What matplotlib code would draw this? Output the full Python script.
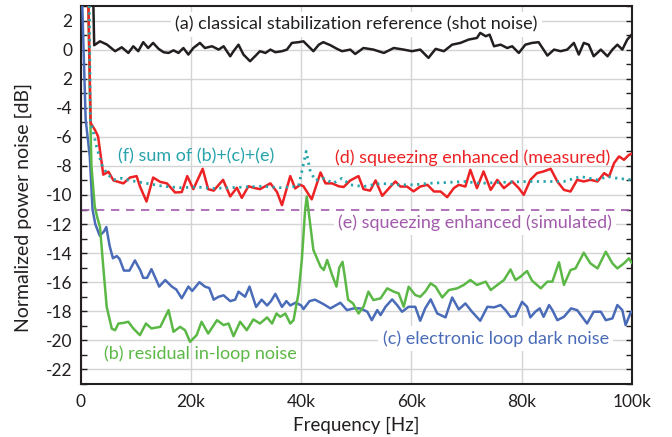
import numpy as np
import matplotlib
matplotlib.use("Agg")
import matplotlib.pyplot as plt
from matplotlib.ticker import MultipleLocator, FixedLocator

plt.rcParams['font.family'] = ['Lato', 'DejaVu Sans']

# frequencies in kHz, values in dB
# (a) classical stabilization reference
fa = [2.2, 2.4, 3.45, 4.7, 6.2, 7.4, 8.6, 9.5, 10.4, 11.3,
      12.2, 13.1, 14.1, 15.0, 15.9, 16.8, 17.7, 18.6, 19.5, 20.4,
      21.6, 22.5, 23.8, 25.0, 25.9, 27.1, 27.7, 28.6, 29.5, 30.7,
      31.6, 32.5, 33.5, 34.4, 35.3, 36.5, 37.4, 38.3, 39.5, 40.4,
      41.3, 42.2, 43.2, 44.0, 45.3, 46.5, 47.4, 48.9, 49.8, 51.3,
      53.1, 55.0, 56.8, 58.6, 60.1, 61.6, 63.1, 64.4, 65.9, 67.4,
      68.9, 70.4, 71.9, 72.5, 73.5, 74.2, 75.0, 76.2, 77.4, 78.3,
      79.5, 80.7, 81.9, 83.1, 84.7, 85.9, 87.1, 88.3, 89.5, 90.4,
      91.3, 92.2, 93.1, 94.4, 95.6, 96.5, 97.4, 98.3, 99.2, 100]
va = [4.0, 0.30, 0.57, 0.35, -0.11, 0.16, -0.23, 0.23, -0.11, 0.51,
      0.11, 0.46, 0.05, -0.18, -0.23, -0.05, -0.23, 0.11, -0.34, 0.11,
      0.46, 0.11, 0.23, 0.0, 0.23, -0.46, -0.11, 0.34, -0.34, -0.80,
      -0.46, -0.11, -0.23, 0.0, -0.18, -0.11, 0.0, 0.46, 0.51, 0.57,
      0.23, -0.11, 0.34, 0.51, 0.3, 0.05, -0.11, 0.0, -0.30, 0.11,
      0.0, -0.23, 0.11, 0.0, -0.11, 0.0, -0.57, 0.05, -0.11, 0.34,
      0.46, 0.69, 0.80, 1.15, 0.92, 1.03, 0.23, 0.34, 0.11, 0.23,
      -0.23, 0.34, 0.46, 0.51, -0.41, 0.0, -0.11, 0.0, 0.46, -0.34,
      0.46, 0.34, -0.46, 0.0, -0.46, 0.0, 0.34, 0.0, 0.69, 1.03]

# (b) residual in-loop noise
fb = [1.3, 1.7, 1.9, 2.5, 3.0, 3.45, 4.06, 4.67, 5.6, 6.2,
      6.8, 7.7, 8.6, 9.5, 10.7, 11.8, 12.8, 14.4, 15.9, 16.8,
      18.0, 18.9, 19.8, 21.0, 21.9, 23.1, 24.7, 25.9, 26.8, 27.7,
      28.9, 30.1, 31.3, 32.5, 33.8, 34.7, 35.5, 36.2, 37.1, 38.0,
      38.6, 39.5, 40.1, 40.7, 41.0, 42.2, 43.5, 44.1, 44.7, 45.6,
      46.4, 46.9, 47.5, 47.9, 48.5, 49.4, 50.4, 51.3, 52.2, 53.1,
      54.4, 55.6, 56.8, 57.7, 58.6, 59.5, 60.7, 61.6, 62.5, 63.5,
      64.4, 65.6, 66.8, 68.3, 69.5, 70.7, 71.9, 73.5, 74.4, 75.6,
      76.8, 78.0, 78.9, 79.8, 81.0, 81.9, 83.5, 84.7, 85.6, 86.8,
      87.7, 88.9, 89.8, 91.3, 92.5, 93.8, 95.3, 96.5, 97.4, 98.6,
      99.5, 100]
vb = [4.0, -4.8, -8.0, -10.8, -11.6, -12.2, -15.0, -17.7, -19.2, -19.3,
      -18.84, -18.8, -18.72, -19.18, -19.64, -18.84, -19.18, -19.07, -17.92, -19.41,
      -19.07, -19.30, -20.1, -19.64, -18.72, -19.53, -18.61, -18.95, -18.84, -19.71,
      -18.72, -19.30, -18.56, -18.84, -18.42, -18.84, -18.15, -18.38, -18.15, -18.84,
      -18.61, -16.76, -14.47, -11.03, -10.1, -13.78, -14.93, -15.16, -14.47, -15.5,
      -16.3, -15.0, -14.6, -15.6, -17.2, -17.46, -18.15, -17.69, -16.65, -17.23,
      -17.11, -16.42, -16.65, -16.77, -17.69, -16.31, -16.88, -17.0, -16.65, -16.08,
      -16.31, -17.05, -16.54, -16.42, -16.19, -15.85, -16.19, -15.96, -16.54, -16.19,
      -15.85, -15.12, -15.85, -15.62, -15.23, -15.89, -16.42, -15.96, -15.96, -14.63,
      -16.19, -15.16, -15.05, -13.97, -14.7, -15.05, -13.9, -14.7, -15.05, -14.7,
      -14.36, -14.66]

# (c) electronic loop dark noise
fc = [0.2, 0.85, 1.6, 2.1, 2.6, 3.4, 4.2, 4.6, 5.2, 5.8,
      6.5, 7.0, 7.8, 8.8, 9.8, 10.8, 11.3, 12.0, 12.8, 14.2,
      15.3, 16.5, 17.3, 18.3, 19.5, 20.2, 21.5, 22.5, 23.3, 24.1,
      25.0, 25.9, 27.1, 28.0, 28.6, 29.8, 30.6, 31.2, 31.8, 32.8,
      33.8, 34.5, 35.3, 36.5, 37.3, 38.0, 39.0, 40.0, 40.4, 41.5,
      42.5, 44.0, 45.3, 47.1, 48.3, 49.5, 50.7, 52.0, 52.8, 53.8,
      54.4, 55.3, 56.5, 57.4, 58.3, 59.5, 60.7, 61.6, 62.5, 63.5,
      64.7, 66.2, 67.4, 68.6, 69.8, 71.0, 72.5, 73.8, 75.0, 76.2,
      77.1, 78.0, 78.9, 80.1, 81.0, 81.6, 82.5, 83.3, 84.0, 85.0,
      85.6, 86.5, 87.7, 89.0, 90.1, 91.9, 93.1, 94.4, 95.3, 96.5,
      97.4, 98.3, 98.9, 99.8, 100]
vc = [3.5, -4.8, -7.35, -11.0, -12.0, -12.8, -12.5, -12.2, -13.5, -14.35,
      -14.2, -14.4, -15.2, -15.2, -14.5, -15.2, -15.7, -15.7, -15.1, -16.3,
      -15.85, -16.3, -16.5, -17.1, -16.3, -16.6, -16.0, -16.3, -16.4, -17.2,
      -17.0, -16.9, -17.3, -17.2, -16.65, -17.0, -16.3, -17.0, -17.7, -17.2,
      -17.6, -17.3, -16.8, -17.7, -17.3, -17.6, -17.4, -17.6, -17.85, -17.3,
      -17.2, -17.5, -17.80, -17.41, -17.92, -17.80, -17.80, -18.03, -18.61, -17.92,
      -18.26, -17.69, -17.18, -17.57, -18.03, -17.69, -17.69, -18.65, -17.80, -17.18,
      -18.15, -18.42, -17.05, -17.87, -17.46, -18.03, -18.65, -17.69, -17.73, -17.57,
      -17.92, -18.38, -18.33, -17.35, -17.69, -18.42, -18.03, -17.80, -18.38, -17.57,
      -17.92, -18.61, -18.38, -17.80, -17.92, -18.84, -18.03, -18.03, -18.61, -18.49,
      -17.57, -17.92, -18.95, -18.1, -18.03]

# (d) squeezing enhanced (measured)
fd = [1.3, 1.76, 2.5, 3.1, 3.6, 4.05, 5.0, 5.9, 7.7, 8.9,
      10.1, 10.7, 11.9, 13.1, 14.4, 15.6, 17.1, 18.3, 19.3, 20.4,
      22.1, 23.1, 24.1, 25.8, 27.1, 28.3, 29.2, 30.4, 31.3, 32.5,
      34.4, 35.6, 36.5, 38.0, 38.9, 39.8, 40.4, 41.9, 43.5, 44.4,
      45.6, 46.8, 47.7, 48.9, 50.4, 51.3, 52.5, 53.5, 54.7, 56.2,
      57.1, 58.0, 59.2, 60.4, 61.6, 62.9, 64.1, 65.3, 66.5, 67.7,
      68.6, 69.8, 70.7, 71.9, 73.1, 74.4, 75.6, 76.8, 78.3, 79.5,
      80.4, 81.6, 82.8, 84.0, 85.3, 86.5, 87.7, 88.9, 90.1, 91.3,
      92.5, 93.8, 95.0, 95.9, 96.8, 97.7, 98.6, 99.5, 100]
vd = [4.0, -5.05, -5.5, -5.97, -7.35, -8.6, -8.4, -9.0, -9.2, -8.8,
      -8.7, -9.4, -10.45, -8.8, -9.1, -9.2, -9.83, -9.8, -8.7, -9.6,
      -8.2, -9.6, -9.7, -8.96, -10.1, -9.5, -10.2, -9.4, -9.5, -9.6,
      -9.2, -9.8, -10.7, -8.7, -9.55, -9.3, -9.4, -10.3, -8.45, -9.2,
      -9.2, -9.4, -9.45, -9.0, -8.7, -9.6, -9.7, -9.0, -10.06, -9.42,
      -9.07, -9.42, -9.42, -9.75, -9.42, -9.3, -9.76, -9.76, -10.15, -9.53,
      -9.3, -9.42, -8.27, -9.53, -8.38, -9.65, -8.96, -9.53, -9.07, -9.53,
      -9.99, -8.96, -8.5, -8.38, -8.2, -9.07, -9.65, -9.76, -8.96, -9.07,
      -8.96, -9.07, -8.5, -8.73, -7.81, -7.35, -7.58, -7.24, -7.17]

# (e) squeezing enhanced (simulated)
fe = [0, 100]
ve = [-11.0, -11.0]

# (f) sum of (b)+(c)+(e)
ff = [1.5, 1.7, 2.0, 2.85, 3.76, 4.67, 5.9, 7.4, 8.9, 11.9,
      14.9, 18.0, 21.0, 24.0, 27.0, 30.0, 33.0, 36.0, 39.5, 40.1,
      40.9, 41.6, 42.5, 44.0, 45.8, 47.4, 48.9, 51.3, 54.4, 57.4,
      60.4, 63.5, 66.5, 69.5, 72.5, 75.6, 78.6, 81.6, 84.8, 87.7,
      90.7, 93.8, 95.6, 97.4, 100]
vf = [4.0, -4.8, -5.3, -6.7, -7.9, -8.5, -8.96, -8.85, -9.0, -9.2,
      -9.4, -9.5, -9.45, -9.55, -9.5, -9.45, -9.4, -9.5, -9.4, -8.4,
      -7.0, -8.3, -9.0, -8.85, -9.19, -8.85, -9.3, -9.42, -9.2, -9.3,
      -9.3, -9.19, -9.14, -9.07, -9.2, -9.14, -9.1, -9.07, -9.07, -9.07,
      -8.73, -8.96, -8.73, -8.85, -8.96]

c_black = "#231f20"
c_red = "#ed2224"
c_green = "#5cb846"
c_blue = "#4a6cb8"
c_cyan = "#27a3ab"
c_purple = "#a25bab"

fig = plt.figure(figsize=(6.72, 4.37), dpi=100)
ax = fig.add_axes([0.1205, 0.1213, 0.8195, 0.865])

k = lambda f: np.array(f) * 1000.0
lw = 1.8
ax.plot(k(fe), ve, color=c_purple, lw=1.2, ls=(0, (5, 4)), zorder=2)
ax.plot(k(fc), vc, color=c_blue, lw=lw, zorder=3)
ax.plot(k(fb), vb, color=c_green, lw=lw, zorder=3)
ax.plot(k(fd), vd, color=c_red, lw=lw, zorder=4)
ax.plot(k(ff), vf, color=c_cyan, lw=2.0, ls=(0, (0.8, 1.6)), zorder=5)
ax.plot(k(fa), va, color=c_black, lw=lw, zorder=4)

ax.set_xlim(0, 100000)
ax.set_ylim(-23, 3)

ax.xaxis.set_major_locator(FixedLocator([0, 20000, 40000, 60000, 80000, 100000]))
ax.set_xticklabels(["0", "20k", "40k", "60k", "80k", "100k"])
yt = [2, 0, -2, -4, -6, -8, -10, -12, -14, -16, -18, -20, -22]
ax.yaxis.set_major_locator(FixedLocator(yt))
ax.set_yticklabels(["2", "0", "2", "-4", "-6", "-8", "-10", "-12", "-14",
                    "-16", "-18", "-20", "-22"])
ax.yaxis.set_minor_locator(MultipleLocator(1))

ax.grid(True, which="major", color="#d4d4d4", lw=1.0, zorder=0)
ax.set_axisbelow(True)
ax.tick_params(axis="x", length=0, pad=7, labelsize=12.5, colors=c_black)
ax.tick_params(axis="y", which="both", direction="in", left=True, right=True,
               labelsize=12.5, colors=c_black, pad=6)
ax.tick_params(axis="y", which="major", length=4, width=1)
ax.tick_params(axis="y", which="minor", length=4, width=1)
for s in ax.spines.values():
    s.set_linewidth(1.5)
    s.set_color(c_black)

ax.set_xlabel("Frequency [Hz]", fontsize=13.5, color=c_black, labelpad=5)
ax.set_ylabel("Normalized power noise [dB]", fontsize=14, color=c_black)
ax.yaxis.set_label_coords(-0.089, 0.466)

wb = dict(facecolor="white", edgecolor="none", pad=3)
fs = 13
ax.text(50000, 1.72, "(a) classical stabilization reference (shot noise)",
        color=c_black, fontsize=fs, ha="center", va="center", bbox=wb, zorder=1)
ax.text(20900, -7.37, "(f) sum of (b)+(c)+(e)", color=c_cyan, fontsize=fs,
        ha="center", va="center", zorder=6)
ax.text(71100, -7.44, "(d) squeezing enhanced (measured)", color=c_red, fontsize=fs,
        ha="center", va="center", zorder=6)
ax.text(71500, -11.92, "(e) squeezing enhanced (simulated)", color=c_purple, fontsize=fs,
        ha="center", va="center", bbox=wb, zorder=1)
ax.text(21600, -20.9, "(b) residual in-loop noise", color=c_green, fontsize=fs,
        ha="center", va="center", zorder=6)
ax.text(75300, -19.9, "(c) electronic loop dark noise", color=c_blue, fontsize=fs,
        ha="center", va="center", bbox=wb, zorder=1)

fig.savefig("out.png", dpi=100)
